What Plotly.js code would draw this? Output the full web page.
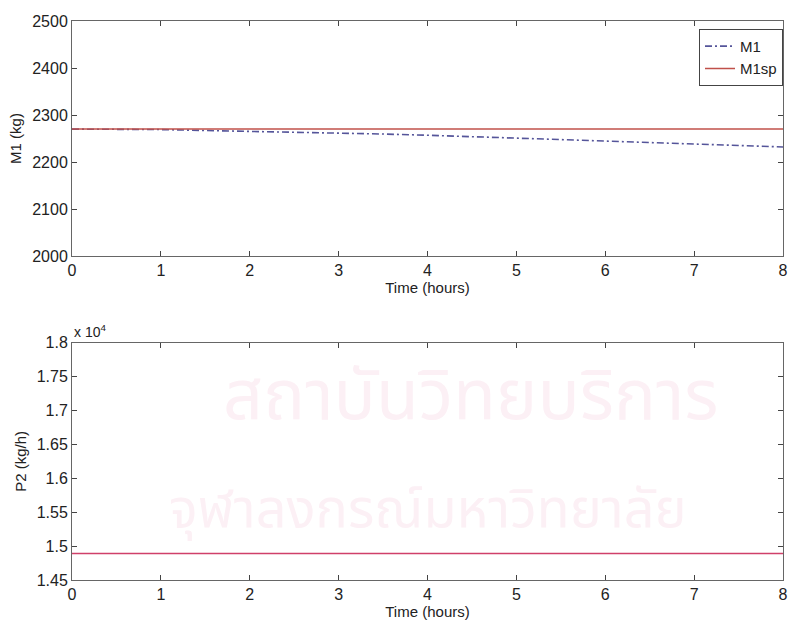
<!DOCTYPE html>
<html>
<head>
<meta charset="utf-8">
<script src="https://cdn.plot.ly/plotly-3.0.1.min.js"></script>
<style>html,body{margin:0;padding:0;background:#fff;}#chart{width:788px;height:626px;}</style>
</head>
<body>
<div id="chart"></div>
<script>
const timeHours = [0, 0.5, 1, 1.5, 2, 2.5, 3, 3.5, 4, 4.5, 5, 5.5, 6, 6.5, 7, 7.5, 8];
const M1 = [2270, 2270, 2269, 2267, 2265.5, 2264, 2262, 2259.5, 2257, 2254, 2251, 2248, 2245, 2242, 2239, 2235.5, 2232];
const M1sp = [2270, 2270, 2270, 2270, 2270, 2270, 2270, 2270, 2270, 2270, 2270, 2270, 2270, 2270, 2270, 2270, 2270];
const P2 = [14890, 14890, 14890, 14890, 14890, 14890, 14890, 14890, 14890, 14890, 14890, 14890, 14890, 14890, 14890, 14890, 14890];
const xTicks = [0, 1, 2, 3, 4, 5, 6, 7, 8];
const m1Ticks = [2000, 2100, 2200, 2300, 2400, 2500];
const p2TickVals = [14500, 15000, 15500, 16000, 16500, 17000, 17500, 18000];
const p2TickText = ['1.45', '1.5', '1.55', '1.6', '1.65', '1.7', '1.75', '1.8'];
const watermarkLines = ['สถาบันวิทยบริการ', 'จุฬาลงกรณ์มหาวิทยาลัย'];

const font = {family: 'Liberation Sans, Arial, sans-serif', size: 16, color: '#222'};
const axisCommon = {
  showline: true, linecolor: '#666', linewidth: 1, mirror: 'allticks',
  ticks: 'inside', ticklen: 5, tickcolor: '#444', tickwidth: 1,
  showgrid: false, zeroline: false, tickfont: {size: 16, color: '#222'}
};
const titleFont = {size: 15, color: '#222'};
const wmFont = {color: '#fcf0f5', family: 'Noto Sans Thai, Noto Sans, DejaVu Sans, sans-serif'};

const traces = [
  {x: timeHours, y: M1, name: 'M1', type: 'scatter', mode: 'lines', xaxis: 'x', yaxis: 'y',
   line: {color: '#55559a', width: 1.6, dash: '7px,3px,2px,3px'}},
  {x: timeHours, y: M1sp, name: 'M1sp', type: 'scatter', mode: 'lines', xaxis: 'x', yaxis: 'y',
   line: {color: '#c0504a', width: 1.5}},
  {x: timeHours, y: P2, name: 'P2', type: 'scatter', mode: 'lines', xaxis: 'x2', yaxis: 'y2',
   line: {color: '#d0406a', width: 1.5}, showlegend: false}
];

const layout = {
  width: 788, height: 626,
  margin: {l: 72, r: 5, t: 21, b: 46},
  paper_bgcolor: '#fff', plot_bgcolor: 'rgba(0,0,0,0)',
  font: font,
  showlegend: true,
  legend: {x: 1, xanchor: 'right', y: 0.986, yanchor: 'top', bgcolor: '#fff',
           bordercolor: '#444', borderwidth: 1, font: {size: 15, color: '#222'},
           tracegroupgap: 0, itemwidth: 30},
  xaxis: Object.assign({}, axisCommon, {domain: [0, 1], range: [0, 8], tickvals: xTicks, anchor: 'y',
    title: {text: 'Time (hours)', font: titleFont, standoff: 3}}),
  yaxis: Object.assign({}, axisCommon, {domain: [0.5796, 1], range: [2000, 2500], tickvals: m1Ticks, anchor: 'x',
    title: {text: 'M1 (kg)', font: titleFont, standoff: 6}}),
  xaxis2: Object.assign({}, axisCommon, {domain: [0, 1], range: [0, 8], tickvals: xTicks, anchor: 'y2',
    title: {text: 'Time (hours)', font: titleFont, standoff: 3}}),
  yaxis2: Object.assign({}, axisCommon, {domain: [0, 0.4245], range: [14500, 18000], tickvals: p2TickVals, ticktext: p2TickText, anchor: 'x2',
    title: {text: 'P2 (kg/h)', font: titleFont, standoff: 6}}),
  annotations: [
    {xref: 'paper', yref: 'paper', x: 0.56, y: 0.325, xanchor: 'center', yanchor: 'middle',
     text: watermarkLines[0], showarrow: false, font: Object.assign({size: 70}, wmFont)},
    {xref: 'paper', yref: 'paper', x: 0.5, y: 0.125, xanchor: 'center', yanchor: 'middle',
     text: watermarkLines[1], showarrow: false, font: Object.assign({size: 54}, wmFont)},
    {xref: 'paper', yref: 'paper', x: 0, y: 0.4245, xanchor: 'left', yanchor: 'bottom', yshift: 1,
     text: 'x 10<sup>4</sup>', showarrow: false, font: {size: 14, color: '#222'}}
  ]
};

Plotly.newPlot('chart', traces, layout, {displayModeBar: false, staticPlot: true});
</script>
</body>
</html>
